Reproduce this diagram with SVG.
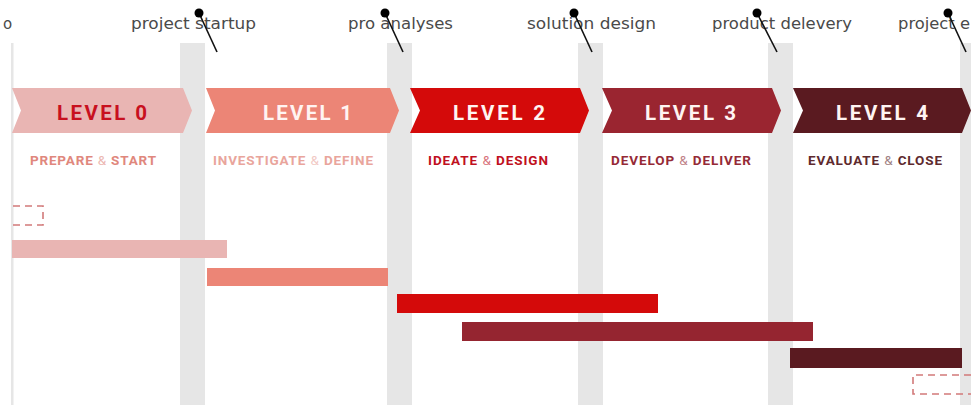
<svg xmlns="http://www.w3.org/2000/svg" width="971" height="405" viewBox="0 0 971 405">
  <style>
    .band { fill: #e6e6e6; }
    .lvl { font-family: "Roboto", "Liberation Sans", sans-serif; font-weight: 700; font-size: 20.5px; text-anchor: middle; }
    .sub { font-family: "Roboto", "Liberation Sans", sans-serif; font-weight: 700; font-size: 13.5px; }
    .amp { font-weight: 400; opacity: 0.6; }
    .ms { font-family: "DejaVu Sans", "Liberation Sans", sans-serif; font-size: 15px; fill: #4a4a4a; }
    .pin circle { fill: #000; }
    .pin line { stroke: #111; stroke-width: 1.6; }
    .dash { fill: none; stroke: #d27a7a; stroke-width: 1.6; stroke-dasharray: 7 5; }
  </style>

  <rect width="971" height="405" fill="#ffffff"/>

  <!-- phase separators -->
  <g id="separators">
    <rect class="band" x="11" y="43" width="2.5" height="362"/>
    <rect class="band" x="180" y="43" width="25" height="362"/>
    <rect class="band" x="387" y="43" width="25" height="362"/>
    <rect class="band" x="578" y="43" width="25" height="362"/>
    <rect class="band" x="768" y="43" width="25" height="362"/>
    <rect class="band" x="960" y="43" width="25" height="362"/>
  </g>

  <!-- milestone labels -->
  <g id="milestones">
    <text class="ms" x="3" y="29">o</text>
    <text class="ms" x="131" y="29" textLength="125" lengthAdjust="spacingAndGlyphs">project startup</text>
    <text class="ms" x="348" y="29" textLength="105" lengthAdjust="spacingAndGlyphs">pro analyses</text>
    <text class="ms" x="527" y="29" textLength="129" lengthAdjust="spacingAndGlyphs">solution design</text>
    <text class="ms" x="712" y="29" textLength="140" lengthAdjust="spacingAndGlyphs">product delevery</text>
    <text class="ms" x="898" y="29" textLength="72" lengthAdjust="spacingAndGlyphs">project e</text>
  </g>

  <!-- phase chevrons -->
  <g id="level0">
    <polygon points="12,88 183,88 192,110.5 183,133 12,133 21,110.5" fill="#e9b5b3"/>
    <text class="lvl" x="102" y="120" fill="#c8101e" textLength="90" lengthAdjust="spacing">LEVEL 0</text>
    <text class="sub" x="30" y="165" fill="#e0877d" textLength="126" lengthAdjust="spacing">PREPARE <tspan class="amp">&amp;</tspan> START</text>
  </g>
  <g id="level1">
    <polygon points="206,88 390,88 399,110.5 390,133 206,133 215,110.5" fill="#ec8576"/>
    <text class="lvl" x="307.5" y="120" fill="#fff4f2" textLength="89" lengthAdjust="spacing">LEVEL 1</text>
    <text class="sub" x="213" y="165" fill="#e9a59c" textLength="160" lengthAdjust="spacing">INVESTIGATE <tspan class="amp">&amp;</tspan> DEFINE</text>
  </g>
  <g id="level2">
    <polygon points="410,88 580,88 589,110.5 580,133 410,133 420,110.5" fill="#d40a0a"/>
    <text class="lvl" x="499" y="120" fill="#fff4f2" textLength="92" lengthAdjust="spacing">LEVEL 2</text>
    <text class="sub" x="428" y="165" fill="#c0101e" textLength="120" lengthAdjust="spacing">IDEATE <tspan class="amp">&amp;</tspan> DESIGN</text>
  </g>
  <g id="level3">
    <polygon points="602,88 772,88 781,110.5 772,133 602,133 612,110.5" fill="#9a2530"/>
    <text class="lvl" x="690.5" y="120" fill="#fff4f2" textLength="91" lengthAdjust="spacing">LEVEL 3</text>
    <text class="sub" x="611" y="165" fill="#952a36" textLength="140" lengthAdjust="spacing">DEVELOP <tspan class="amp">&amp;</tspan> DELIVER</text>
  </g>
  <g id="level4">
    <polygon points="793,88 962,88 971,110.5 962,133 793,133 803,110.5" fill="#5a1a20"/>
    <text class="lvl" x="882" y="120" fill="#fff4f2" textLength="92" lengthAdjust="spacing">LEVEL 4</text>
    <text class="sub" x="808" y="165" fill="#5e2a2e" textLength="134" lengthAdjust="spacing">EVALUATE <tspan class="amp">&amp;</tspan> CLOSE</text>
  </g>

  <!-- milestone pins -->
  <g id="connectors">
    <g class="pin"><line x1="199" y1="13" x2="217" y2="52"/><circle cx="199" cy="13" r="4.5"/></g>
    <g class="pin"><line x1="385" y1="13" x2="403" y2="52"/><circle cx="385" cy="13" r="4.5"/></g>
    <g class="pin"><line x1="574" y1="13" x2="592" y2="52"/><circle cx="574" cy="13" r="4.5"/></g>
    <g class="pin"><line x1="757" y1="13" x2="777" y2="52"/><circle cx="757" cy="13" r="4.5"/></g>
    <g class="pin"><line x1="948" y1="13" x2="966" y2="52"/><circle cx="948" cy="13" r="4.5"/></g>
  </g>

  <!-- schedule bars -->
  <g id="bars">
    <path class="dash" d="M13,206 H43 V225 H13"/>
    <rect x="12" y="240" width="215" height="18" fill="#e9b5b3"/>
    <rect x="207" y="268" width="181" height="18" fill="#ec8576"/>
    <rect x="397" y="294" width="261" height="19" fill="#d40a0a"/>
    <rect x="462" y="322" width="351" height="19" fill="#952530"/>
    <rect x="790" y="348" width="172" height="20" fill="#5a1a20"/>
    <path class="dash" d="M971,375 H913 V394 H971"/>
  </g>
</svg>
